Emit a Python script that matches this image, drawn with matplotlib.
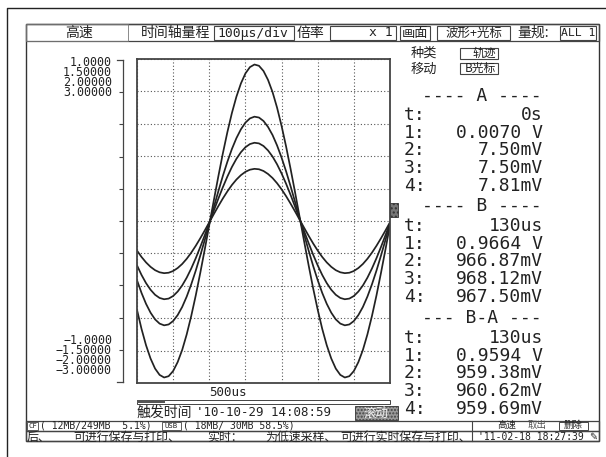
import numpy as np
import matplotlib
matplotlib.use("Agg")
import matplotlib.pyplot as plt
from matplotlib.patches import Rectangle

# ---------------- data ----------------
t_us = [0, 12.5, 25, 37.5, 50, 62.5, 75, 87.5, 100, 112.5, 125, 137.5, 150, 162.5,
        175, 187.5, 200, 212.5, 225, 237.5, 250, 262.5, 275, 287.5, 300, 312.5,
        325, 337.5, 350, 362.5, 375, 387.5, 400, 412.5, 425, 437.5, 450, 462.5,
        475, 487.5, 500, 512.5, 525, 537.5, 550, 562.5, 575, 587.5, 600, 612.5,
        625, 637.5, 650, 662.5, 675, 687.5, 700]
signal_v = [-0.548, -0.666, -0.767, -0.849, -0.911, -0.950, -0.966, -0.958, -0.926,
            -0.871, -0.796, -0.700, -0.587, -0.460, -0.321, -0.175, -0.024, 0.127,
            0.275, 0.417, 0.548, 0.666, 0.767, 0.849, 0.911, 0.950, 0.966, 0.958,
            0.926, 0.871, 0.796, 0.700, 0.587, 0.460, 0.321, 0.175, 0.024, -0.127,
            -0.275, -0.417, -0.548, -0.666, -0.767, -0.849, -0.911, -0.950, -0.966,
            -0.958, -0.926, -0.871, -0.796, -0.700, -0.587, -0.460, -0.321, -0.175,
            -0.024]
channel_ranges = [1.0, 1.5, 2.0, 3.0]
top_labels = ["1.0000", "1.50000", "2.00000", "3.00000"]
bottom_labels = ["\u22121.0000", "\u22121.50000", "\u22122.00000", "\u22123.00000"]
row_labels = ["t:", "1:", "2:", "3:", "4:"]
cursor_A = ["0s", "0.0070 V", "7.50mV", "7.50mV", "7.81mV"]
cursor_B = ["130us", "0.9664 V", "966.87mV", "968.12mV", "967.50mV"]
cursor_BA = ["130us", "0.9594 V", "959.38mV", "960.62mV", "959.69mV"]
message_parts = ["后、", "可进行保存与打印、", "实时：", "为低速采样、", "可进行实时保存与打印、"]

MONO = ["DejaVu Sans Mono", "Noto Sans CJK SC"]
CJK = ["Noto Sans CJK SC", "DejaVu Sans"]
INK = "#222222"

W, H = 606, 457
fig = plt.figure(figsize=(W / 100, H / 100), dpi=100)
fig.patch.set_facecolor("white")
renderer = fig.canvas.get_renderer()


def px_axes(x0, y0, x1, y1):
    return fig.add_axes([x0 / W, 1 - y1 / H, (x1 - x0) / W, (y1 - y0) / H])


ov = fig.add_axes([0, 0, 1, 1])
ov.set_xlim(0, W)
ov.set_ylim(H, 0)
ov.axis("off")


def rect(x0, y0, x1, y1, lw=0.8, ec="#444", fc="none", z=1):
    ov.add_patch(Rectangle((x0, y0), x1 - x0, y1 - y0, lw=lw, ec=ec, fc=fc, zorder=z))


def txt(x, y, s, size, fam=MONO, ha="left", va="center", color=INK, **kw):
    return ov.text(x, y, s, fontsize=size, family=fam, ha=ha, va=va, color=color, **kw)


def block(x, y_first, lines, size, pitch, ha="left"):
    """multi-line mono text; y_first = vertical centre of first line's digits"""
    t1 = ov.text(0, 0, "lp", fontsize=size, family=MONO)
    t2 = ov.text(0, 0, "lp\nlp", fontsize=size, family=MONO, linespacing=1.0)
    p1 = t2.get_window_extent(renderer).height - t1.get_window_extent(renderer).height
    t1.remove()
    t2.remove()
    ls = pitch / p1
    em = size * 100 / 72
    return ov.text(x, y_first - 0.3955 * em, "\n".join(lines), fontsize=size,
                   family=MONO, ha=ha, ma=ha, va="top", color=INK, linespacing=ls)


# outer frame and screen frame
ov.plot([7, 7, W], [H, 8, 8], color="#222", lw=1.0)
rect(26, 24, 599, 441, lw=1.0, ec="#333")

# ---------------- header ----------------
rect(26, 24, 599, 41, lw=0.9, ec="#444")
rect(26, 24, 128, 41, lw=0.6, ec="#777")
txt(79, 33, "高速", 10, CJK, ha="center")
txt(141, 33, "时间轴量程", 10, CJK)
rect(214, 26, 294, 40)
txt(217, 33, "100\u03bcs/div", 9.4)
txt(310, 33, "倍率", 10, CJK, ha="center")
rect(330, 26, 396, 40)
txt(393, 33, "x 1", 9.4, ha="right")
rect(400, 26, 430, 40)
txt(415, 33, "画面", 9.5, CJK, ha="center")
rect(437, 26, 510, 40)
txt(473.5, 33, "波形+光标", 9, CJK, ha="center")
txt(533, 33, "量规:", 10, CJK, ha="center")
rect(560, 26, 596, 40)
txt(578, 33, "ALL 1", 8.2, ha="center")

# ---------------- main waveform plot ----------------
ax = px_axes(137, 59, 390, 383)
ax.set_xlim(0, 700)
ax.set_ylim(-1, 1)
ax.set_xticks(np.arange(0, 701, 100))
ax.set_yticks(np.linspace(-1, 1, 11))
ax.grid(True, ls=(0, (1, 2)), color="#555", lw=0.8)
ax.tick_params(length=0, labelbottom=False, labelleft=False)
for sp in ax.spines.values():
    sp.set_linewidth(1.3)
    sp.set_color("#444")
for r in channel_ranges:
    ax.plot(t_us, np.array(signal_v) / r, color=INK, lw=1.25)

# bracket scale on the left
br = px_axes(117, 60, 123, 382)
br.set_ylim(-1, 1)
br.set_xticks([])
br.set_yticks(np.linspace(-0.8, 0.8, 9))
br.yaxis.tick_right()
br.tick_params(axis="y", direction="in", length=3, width=0.8, colors="#444",
               labelright=False)
br.patch.set_visible(False)
br.spines["left"].set_visible(False)
for k in ("right", "top", "bottom"):
    br.spines[k].set_linewidth(0.9)
    br.spines[k].set_color("#444")

block(112, 61, top_labels, 8.4, 9.0, ha="right")
block(112, 339, bottom_labels, 8.4, 9.0, ha="right")

# channel marker at right edge
ov.add_patch(Rectangle((390, 203), 8, 14, fc="#777", ec="#333", lw=0.6,
                       hatch="....", zorder=5))

# below plot
txt(228, 393, "500us", 9, ha="center")
rect(137, 400, 390, 404, lw=0.7, ec="#444")
ov.add_patch(Rectangle((137, 399.5), 28, 3, fc="#555", ec="none"))
txt(137, 413, "触发时间", 10, CJK)
txt(196, 413, "'10-10-29 14:08:59", 9)
ov.add_patch(Rectangle((355, 406), 43, 14, fc="#9a9a9a", ec="#444", lw=0.7,
                       hatch="....."))
txt(376.5, 413, "滚动", 9, CJK, ha="center", color="#f0f0f0")

# ---------------- cursor panel ----------------
txt(424, 53.5, "种类", 9.5, CJK, ha="center")
rect(460, 48, 498, 59, lw=0.8)
txt(496, 53.5, "轨迹", 8.5, CJK, ha="right")
txt(424, 69, "移动", 9.5, CJK, ha="center")
rect(460, 63, 498, 74, lw=0.8)
txt(496, 68.5, "B光标", 8.5, CJK, ha="right")

sections = [("---- A ----", 96, 113, cursor_A),
            ("---- B ----", 206, 224, cursor_B),
            ("--- B-A ---", 318, 336, cursor_BA)]
for title, ty, y0, vals in sections:
    txt(482, ty, title, 13, ha="center")
    block(404, y0, row_labels, 13, 17.6, ha="left")
    block(543, y0, vals, 13, 17.6, ha="right")

# ---------------- status bar ----------------
rect(26, 421, 599, 431, lw=0.9, ec="#444")
rect(26, 431, 599, 441, lw=0.9, ec="#444")
rect(27, 422, 38, 430, lw=0.6)
txt(32.5, 425.8, "CF", 5.2, ha="center")
txt(40, 425.8, "( 12MB/249MB  5.1%)", 7.0)
rect(162, 422, 181, 430, lw=0.6)
txt(171.5, 425.8, "USB", 5.2, ha="center")
txt(183, 425.8, "( 18MB/ 30MB 58.5%)", 7.0)
ov.plot([472, 472], [421, 441], color="#444", lw=0.8)
txt(507, 425.6, "高速", 6.8, CJK, ha="center")
txt(537, 425.6, "取出", 6.8, CJK, ha="center", color="#555")
rect(559, 422, 588, 430, lw=0.7)
txt(573.5, 425.6, "删除", 6.8, CJK, ha="center")
for part, xc in zip(message_parts, [38, 127, 225, 301, 406]):
    txt(xc, 437, part, 8.6, CJK, ha="center")
txt(478, 436.6, "'11-02-18 18:27:39", 7.0)
txt(593, 436.6, "\u270e", 7, ["DejaVu Sans"], ha="center")

fig.savefig("out.png", dpi=100, facecolor="white")
